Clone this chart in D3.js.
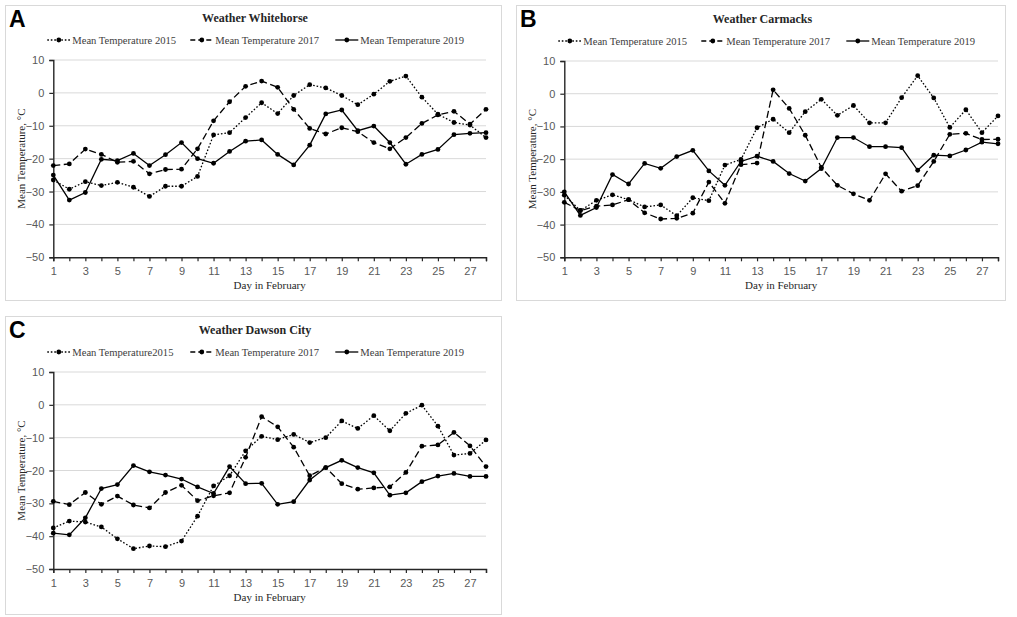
<!DOCTYPE html>
<html lang="en">
<head>
<meta charset="UTF-8">
<title>Mean Temperature in February</title>
<script src="https://cdnjs.cloudflare.com/ajax/libs/d3/7.9.0/d3.min.js"></script>
<style>
    body { margin: 0; background: #fff; }
    .box { fill: none; stroke: #d9d9d9; stroke-width: 1; }
    .grid line { stroke: #d9d9d9; stroke-width: 1; }
    .tick-label { font-family: "Liberation Sans", Arial, sans-serif; font-size: 11px; fill: #595959; }
    .serif { font-family: "Liberation Serif", "Times New Roman", serif; }
    .title { font-size: 12px; font-weight: bold; fill: #262626; }
    .legend-text { font-size: 10.6px; fill: #404040; }
    .axis-title { font-size: 11px; fill: #262626; }
    .letter { font-family: "Liberation Sans", Arial, sans-serif; font-size: 23px; font-weight: bold; fill: #000; }
</style>
</head>
<body>
<div id="chart"></div>
<script>
const days = [1,2,3,4,5,6,7,8,9,10,11,12,13,14,15,16,17,18,19,20,21,22,23,24,25,26,27,28];
const xTickLabels = [1,3,5,7,9,11,13,15,17,19,21,23,25,27];
const yTicks = [10, 0, -10, -20, -30, -40, -50];

const whitehorse2015 = [-26.5,-29.3,-27,-28.2,-27.2,-28.7,-31.5,-28.4,-28.4,-25.4,-12.8,-12.1,-7.5,-3,-6.3,-0.8,2.5,1.5,-0.8,-3.6,-0.4,3.5,5.1,-1.3,-6.5,-9,-9.8,-13.6];
const whitehorse2017 = [-22.1,-21.6,-17.1,-18.7,-21.1,-20.8,-24.6,-23.3,-23.2,-17,-8.5,-2.7,2,3.6,1.7,-5,-10.8,-12.5,-10.6,-11.8,-15.1,-17,-13.6,-9.3,-6.7,-5.6,-9.5,-5];
const whitehorse2019 = [-25,-32.6,-30.3,-20.2,-20.6,-18.4,-22.1,-18.8,-15.1,-20,-21.4,-17.8,-14.7,-14.3,-18.7,-21.9,-15.9,-6.4,-5.2,-11.5,-10.1,-15.1,-21.7,-18.7,-17.2,-12.7,-12.3,-12.1];

const carmacks2015 = [-31,-35.7,-32.6,-30.9,-32.4,-34.6,-34,-37.3,-31.8,-32.7,-21.8,-20.1,-10.4,-7.8,-11.9,-5.5,-1.7,-6.6,-3.6,-8.9,-8.9,-1.2,5.5,-1.3,-10.3,-4.9,-11.9,-6.8];
const carmacks2017 = [-33.2,-35.7,-34.4,-34,-32.4,-36.4,-38.3,-38.1,-36.5,-27,-33.5,-21.7,-21.2,1.2,-4.5,-12.7,-22.5,-28,-30.6,-32.6,-24.5,-29.8,-28.1,-20.7,-12.4,-12.1,-14,-13.9];
const carmacks2019 = [-30,-37.2,-34.8,-24.7,-27.6,-21.3,-22.8,-19.2,-17.3,-23.6,-28,-20.7,-19.1,-20.7,-24.4,-26.7,-22.9,-13.4,-13.4,-16.2,-16.2,-16.5,-23.4,-18.8,-19,-17.2,-14.8,-15.3];

const dawson2015 = [-37.5,-35.4,-35.7,-37.2,-40.8,-43.8,-43,-43.2,-41.5,-33.9,-24.7,-21.6,-14,-9.6,-10.6,-9,-11.5,-10,-4.9,-7.2,-3.3,-7.9,-2.6,-0.1,-6.5,-15.3,-14.8,-10.7];
const dawson2017 = [-29.4,-30.4,-26.7,-30.3,-27.8,-30.5,-31.4,-26.7,-24.5,-29.2,-27.7,-26.8,-16,-3.6,-6.7,-12.9,-21.6,-19.1,-24,-25.7,-25.3,-25,-20.6,-12.6,-12.2,-8.4,-12.5,-18.8];
const dawson2019 = [-39.1,-39.6,-34.4,-25.5,-24.3,-18.5,-20.4,-21.4,-22.6,-25,-27,-18.8,-24,-23.9,-30.3,-29.5,-22.9,-19.1,-16.9,-19.1,-20.7,-27.5,-26.8,-23.4,-21.7,-20.9,-21.8,-21.8];

// line styles for 2015 / 2017 / 2019
const dashes = ["1.6,1.9", "7,3.5", null];

const panels = [
    { letter: "A", title: "Weather Whitehorse", box: [5, 5, 496, 295], x: [53.3, 486], y: [60, 257.3],
      legend: ["Mean Temperature 2015", "Mean Temperature 2017", "Mean Temperature 2019"],
      series: [whitehorse2015, whitehorse2017, whitehorse2019] },
    { letter: "B", title: "Weather Carmacks", box: [516, 5, 489, 295], x: [564.3, 998], y: [61, 257.3],
      legend: ["Mean Temperature 2015", "Mean Temperature 2017", "Mean Temperature 2019"],
      series: [carmacks2015, carmacks2017, carmacks2019] },
    { letter: "C", title: "Weather Dawson City", box: [5, 316, 496, 298], x: [53.3, 486], y: [372, 569],
      legend: ["Mean Temperature2015", "Mean Temperature 2017", "Mean Temperature 2019"],
      series: [dawson2015, dawson2017, dawson2019] }
];

const svg = d3.select("#chart").append("svg")
    .attr("width", 1017)
    .attr("height", 617);

panels.forEach(p => {
    const g = svg.append("g");
    const [bx, by, bw, bh] = p.box;

    g.append("rect").attr("class", "box")
        .attr("x", bx + 0.5).attr("y", by + 0.5).attr("width", bw).attr("height", bh);

    const x = d3.scaleLinear().domain([1, 28]).range(p.x);
    const y = d3.scaleLinear().domain([-50, 10]).range([p.y[1], p.y[0]]);

    // grid
    g.append("g").attr("class", "grid")
        .selectAll("line").data(yTicks.filter(t => t > -50)).enter().append("line")
        .attr("x1", x(1)).attr("x2", x(28))
        .attr("y1", d => y(d)).attr("y2", d => y(d));

    // y axis
    const yAxis = g.append("g")
        .attr("transform", `translate(${x(1)},0)`)
        .call(d3.axisLeft(y).tickValues(yTicks).tickSize(4).tickPadding(5));
    yAxis.select(".domain").attr("stroke", "#262626").attr("stroke-width", 1.4);
    yAxis.selectAll(".tick line").attr("stroke", "#262626").attr("stroke-width", 1.2);
    yAxis.selectAll("text").attr("class", "tick-label").attr("fill", null);

    // x axis
    const xAxis = g.append("g")
        .attr("transform", `translate(0,${y(-50)})`)
        .call(d3.axisBottom(x).tickValues(days).tickSize(4).tickPadding(6)
            .tickFormat(d => xTickLabels.includes(d) ? d : ""));
    xAxis.select(".domain").attr("stroke", "#262626").attr("stroke-width", 1.4);
    xAxis.selectAll(".tick line").attr("stroke", "#262626").attr("stroke-width", 1.2);
    xAxis.selectAll("text").attr("class", "tick-label").attr("fill", null);

    const midX = (p.x[0] + p.x[1]) / 2;
    const midY = (p.y[0] + p.y[1]) / 2;

    g.append("text").attr("class", "serif axis-title")
        .attr("x", midX).attr("y", p.y[1] + 32)
        .attr("text-anchor", "middle").text("Day in February");

    g.append("text").attr("class", "serif axis-title")
        .attr("transform", `translate(${bx + 20},${midY}) rotate(-90)`)
        .attr("text-anchor", "middle").text("Mean Temperature, °C");

    g.append("text").attr("class", "serif title")
        .attr("x", bx + bw / 2 + 2).attr("y", p.y[0] - 38)
        .attr("text-anchor", "middle").text(p.title);

    g.append("text").attr("class", "letter")
        .attr("x", bx + 4).attr("y", by + 22).text(p.letter);

    // lines
    const line = d3.line().x((d, i) => x(days[i])).y(d => y(d));
    p.series.forEach((s, k) => {
        g.append("path").datum(s)
            .attr("fill", "none").attr("stroke", "#000").attr("stroke-width", 1.3)
            .attr("stroke-dasharray", dashes[k])
            .attr("d", line);
        g.selectAll(null).data(s).enter().append("circle")
            .attr("cx", (d, i) => x(days[i])).attr("cy", d => y(d))
            .attr("r", 2.4).attr("fill", "#000");
    });

    // legend
    const legendOffsets = [-6, 137, 282];
    const ly = p.y[0] - 20;
    p.legend.forEach((label, k) => {
        const lx = p.x[0] + legendOffsets[k];
        g.append("line")
            .attr("x1", lx).attr("x2", lx + 23).attr("y1", ly).attr("y2", ly)
            .attr("stroke", "#000").attr("stroke-width", 1.3)
            .attr("stroke-dasharray", k === 1 ? "5,3" : dashes[k]);
        g.append("circle").attr("cx", lx + 11.5).attr("cy", ly).attr("r", 2.4).attr("fill", "#000");
        g.append("text").attr("class", "serif legend-text")
            .attr("x", lx + 25).attr("y", ly + 3.8).text(label);
    });
});
</script>
</body>
</html>
